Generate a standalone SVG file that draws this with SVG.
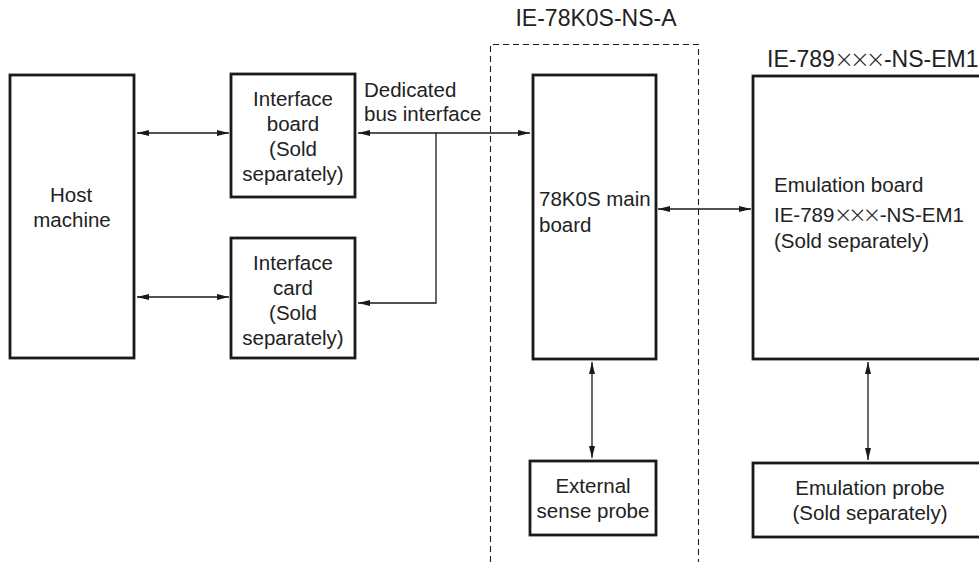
<svg xmlns="http://www.w3.org/2000/svg" width="979" height="564" viewBox="0 0 979 564">
<defs>
<marker id="ah" viewBox="0 0 12 6" refX="12" refY="3" markerWidth="12" markerHeight="6" markerUnits="userSpaceOnUse" orient="auto-start-reverse">
<path d="M0,0 L12,3 L0,6 Z" fill="#1a1a1a"/>
</marker>
</defs>
<style>
.box{fill:#fff;stroke:#1a1a1a;stroke-width:2.8}
.ln{fill:none;stroke:#1a1a1a;stroke-width:1.3}
.dash{fill:none;stroke:#1a1a1a;stroke-width:1.1;stroke-dasharray:6,4}
text{font-family:"Liberation Sans",Arial,sans-serif;font-size:20.5px;fill:#222}
.c{text-anchor:middle}
.big{font-size:23px}
.x{font-family:Inter,"Liberation Sans",sans-serif;font-weight:200;font-size:29px;letter-spacing:-3px}
</style>
<rect width="979" height="564" fill="#fff"/>
<g id="ie78k0s-group">
<path class="dash" d="M490.5,562 L490.5,44.5 L698.5,44.5 L698.5,562"/>
<text class="c big" x="596" y="26">IE-78K0S-NS-A</text>
</g>
<g id="host">
<rect class="box" x="10" y="75" width="124" height="283"/>
<text class="c" x="71" y="202">Host</text>
<text class="c" x="72" y="227">machine</text>
</g>
<g id="interface-board">
<rect class="box" x="231" y="74" width="124" height="123"/>
<text class="c" x="293" y="106">Interface</text>
<text class="c" x="293" y="131">board</text>
<text class="c" x="293" y="156">(Sold</text>
<text class="c" x="293" y="181">separately)</text>
</g>
<g id="interface-card">
<rect class="box" x="231" y="238" width="124" height="120"/>
<text class="c" x="293" y="270">Interface</text>
<text class="c" x="293" y="295">card</text>
<text class="c" x="293" y="320">(Sold</text>
<text class="c" x="293" y="345">separately)</text>
</g>
<g id="main-board">
<rect class="box" x="533" y="75" width="123" height="284"/>
<text x="539" y="206">78K0S main</text>
<text x="539" y="232">board</text>
</g>
<g id="emulation-board">
<text class="big" x="767" y="67">IE-789<tspan class="x" dy="1">×××</tspan><tspan dx="2" dy="-1">-NS-EM1</tspan></text>
<rect class="box" x="753" y="76" width="240" height="283"/>
<text x="774" y="192">Emulation board</text>
<text x="774" y="222">IE-789<tspan class="x" dy="1" style="font-size:27px">×××</tspan><tspan dx="2" dy="-1">-NS-EM1</tspan></text>
<text x="774" y="248">(Sold separately)</text>
</g>
<g id="external-sense-probe">
<rect class="box" x="530" y="461" width="126" height="74"/>
<text class="c" x="593" y="493">External</text>
<text class="c" x="593" y="518">sense probe</text>
</g>
<g id="emulation-probe">
<rect class="box" x="753" y="463" width="240" height="74"/>
<text class="c" x="870" y="495">Emulation probe</text>
<text class="c" x="870" y="520">(Sold separately)</text>
</g>
<g id="connectors">
<line class="ln" x1="137" y1="133" x2="229" y2="133" marker-start="url(#ah)" marker-end="url(#ah)"/>
<line class="ln" x1="137" y1="297" x2="229" y2="297" marker-start="url(#ah)" marker-end="url(#ah)"/>
<line class="ln" x1="358" y1="133" x2="530" y2="133" marker-start="url(#ah)" marker-end="url(#ah)"/>
<polyline class="ln" points="436,133 436,303 358,303" marker-end="url(#ah)"/>
<text x="364" y="97">Dedicated</text>
<text x="364" y="121">bus interface</text>
<line class="ln" x1="658" y1="209" x2="751" y2="209" marker-start="url(#ah)" marker-end="url(#ah)"/>
<line class="ln" x1="592" y1="362" x2="592" y2="458" marker-start="url(#ah)" marker-end="url(#ah)"/>
<line class="ln" x1="868" y1="362" x2="868" y2="460" marker-start="url(#ah)" marker-end="url(#ah)"/>
</g>
</svg>
